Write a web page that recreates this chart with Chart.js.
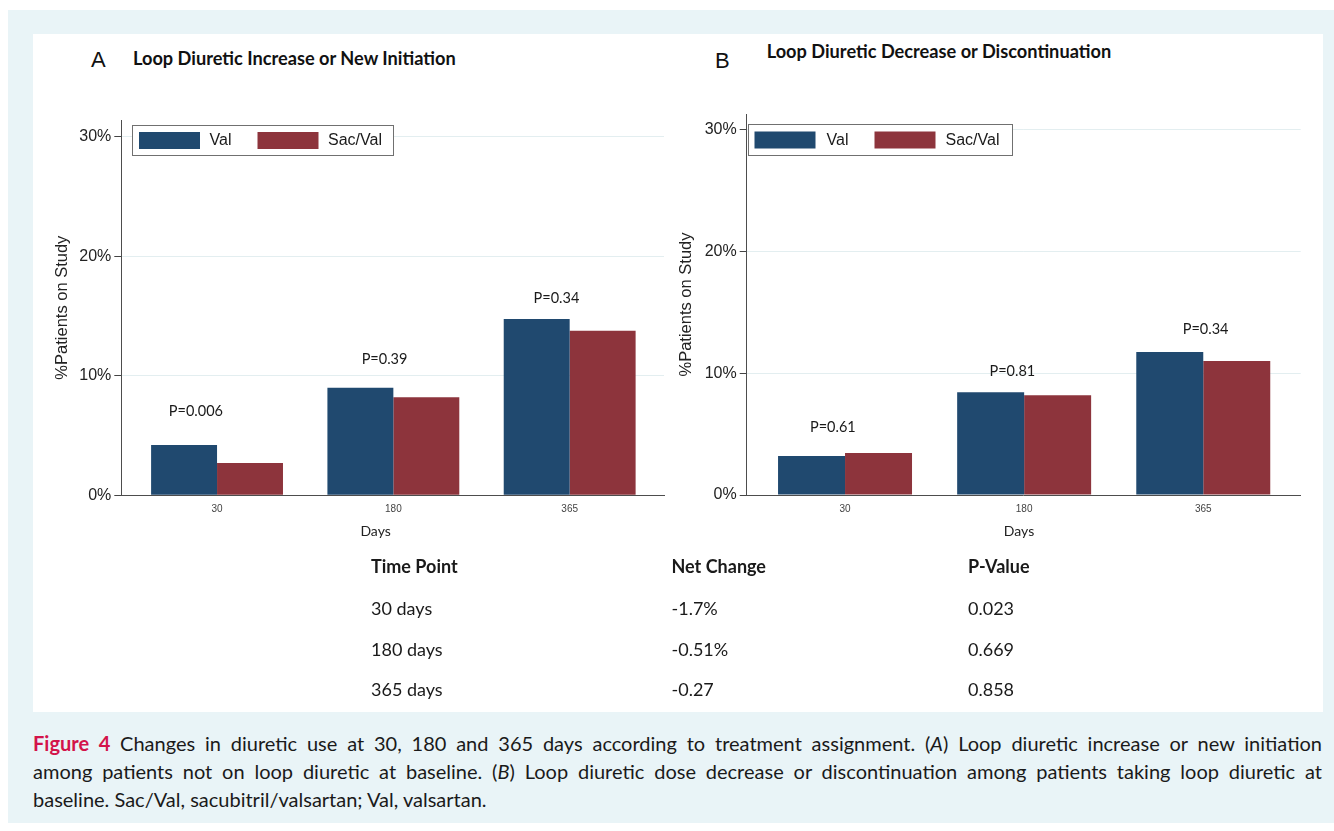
<!DOCTYPE html>
<html>
<head>
<meta charset="utf-8">
<title>Loop diuretic changes</title>
<script src="https://cdn.jsdelivr.net/npm/chart.js@4.4.1/dist/chart.umd.min.js"></script>
<style>
  html, body { margin: 0; padding: 0; background: #ffffff; }
  body { width: 1334px; height: 831px; position: relative; overflow: hidden; font-family: Lato, "Open Sans", sans-serif; color: #1a1a1a; }
  #frame { position: absolute; left: 8px; top: 10px; width: 1326px; height: 813px; background: #e9f4f7; }
  #sheet { position: absolute; left: 33px; top: 34px; width: 1290px; height: 678px; background: #ffffff; }
  .abs { position: absolute; white-space: nowrap; }
  .letter { font-family: "Liberation Sans", Arial, sans-serif; font-size: 22px; line-height: 26px; color: #111; }
  .ptitle { font-weight: 700; font-size: 18.2px; line-height: 21.84px; color: #111; }
  .days { font-size: 14px; line-height: 16.8px; transform: translateX(-50%); color: #222; }
  .cell { font-size: 18px; line-height: 21.6px; color: #1a1a1a; }
  .cell.head { font-weight: 700; }
  canvas { position: absolute; }
  #caption { position: absolute; left: 33px; top: 729px; width: 1289px; font-size: 20px; line-height: 28px; color: #1a1a1a; }
  #caption .cl { white-space: nowrap; }
  #caption .j { white-space: normal; text-align: justify; text-align-last: justify; }
  #caption .fig { color: #d3134a; font-weight: 700; }
</style>
</head>
<body>
<div id="frame"></div>
<div id="sheet"></div>

<div class="abs letter" style="left:91px; top:47.1px;">A</div>
<div class="abs ptitle" style="left:133px; top:47.7px;">Loop Diuretic Increase or New Initiation</div>
<div class="abs letter" style="left:715px; top:47.7px;">B</div>
<div class="abs ptitle" style="left:766.7px; top:41.3px;">Loop Diuretic Decrease or Discontinuation</div>

<canvas id="chartIncrease" width="645" height="530" style="left:33px; top:34px;"></canvas>
<canvas id="chartDecrease" width="650" height="530" style="left:670px; top:34px;"></canvas>

<div class="abs days" style="left:375.6px; top:523px;">Days</div>
<div class="abs days" style="left:1019px; top:523px;">Days</div>

<div id="table"></div>

<div id="caption">
  <div class="cl j"><span class="fig">Figure 4</span> Changes in diuretic use at 30, 180 and 365 days according to treatment assignment. (<i>A</i>) Loop diuretic increase or new initiation</div>
  <div class="cl j">among patients not on loop diuretic at baseline. (<i>B</i>) Loop diuretic dose decrease or discontinuation among patients taking loop diuretic at</div>
  <div class="cl">baseline. Sac/Val, sacubitril/valsartan; Val, valsartan.</div>
</div>

<script>
// ---- data ----
const days = ['30', '180', '365'];
const seriesNames = ['Val', 'Sac/Val'];
const yTicks = [0, 10, 20, 30];

// Panel A: loop diuretic increase or new initiation (% of patients)
const increaseVal = [4.2, 9.0, 14.75];
const increaseSacVal = [2.7, 8.2, 13.75];
const increasePLabels = ['P=0.006', 'P=0.39', 'P=0.34'];

// Panel B: loop diuretic decrease or discontinuation (% of patients)
const decreaseVal = [3.2, 8.45, 11.75];
const decreaseSacVal = [3.45, 8.2, 11.0];
const decreasePLabels = ['P=0.61', 'P=0.81', 'P=0.34'];

// Net change table
const tableHead = ['Time Point', 'Net Change', 'P-Value'];
const timePoints = ['30 days', '180 days', '365 days'];
const netChange = ['-1.7%', '-0.51%', '-0.27'];
const pValues = ['0.023', '0.669', '0.858'];

// ---- table below the panels ----
(function buildTable() {
  const host = document.getElementById('table');
  const colX = [371, 671.5, 968];
  const rowTop = [556.2, 597.5, 638.9, 678.9];
  const rows = [tableHead].concat(timePoints.map((t, i) => [t, netChange[i], pValues[i]]));
  rows.forEach((row, r) => {
    row.forEach((txt, c) => {
      const d = document.createElement('div');
      d.className = 'abs cell' + (r === 0 ? ' head' : '');
      d.style.left = colX[c] + 'px';
      d.style.top = rowTop[r] + 'px';
      d.textContent = txt;
      host.appendChild(d);
    });
  });
})();

// ---- p-value annotations and boxed legend ----
const panelDecor = {
  id: 'panelDecor',
  afterDraw(chart, args, opts) {
    const { ctx, chartArea, scales: { x, y } } = chart;
    ctx.save();
    ctx.font = '14.5px Lato';
    ctx.fillStyle = '#1a1a1a';
    ctx.textAlign = 'center';
    ctx.textBaseline = 'middle';
    opts.pText.forEach((t, i) => {
      ctx.fillText(t, x.getPixelForValue(i + opts.pShift[i]), y.getPixelForValue(opts.pLevel[i]));
    });

    const L = opts.legend;
    const bx = Math.round(chartArea.left + L.dx);
    const by = Math.round(chartArea.top + L.dy);
    ctx.fillStyle = '#ffffff';
    ctx.fillRect(bx, by, L.w, L.h);
    ctx.strokeStyle = '#707070';
    ctx.lineWidth = 1;
    ctx.strokeRect(bx + 0.5, by + 0.5, L.w, L.h);
    ctx.font = '16px "Liberation Sans"';
    ctx.textAlign = 'left';
    chart.data.datasets.forEach((ds, i) => {
      ctx.fillStyle = ds.backgroundColor;
      ctx.fillRect(bx + L.swatchX[i], by + (L.h - 17) / 2 + 0.5, 61, 17);
      ctx.fillStyle = '#1a1a1a';
      ctx.fillText(ds.label, bx + L.textX[i], by + L.h / 2 + 1);
    });
    ctx.restore();
  }
};

function makePanel(id, valSeries, sacSeries, pText, cfg) {
  const points = arr => days.map((d, i) => ({ x: i, y: arr[i] }));
  return new Chart(document.getElementById(id), {
    type: 'bar',
    data: {
      datasets: [
        { label: seriesNames[0], data: points(valSeries), backgroundColor: '#20496f',
          categoryPercentage: 0.748, barPercentage: 1, borderWidth: 0 },
        { label: seriesNames[1], data: points(sacSeries), backgroundColor: '#8d343c',
          categoryPercentage: 0.748, barPercentage: 1, borderWidth: 0 }
      ]
    },
    options: {
      responsive: false,
      animation: false,
      events: [],
      layout: { padding: { left: 0, top: cfg.padTop, right: cfg.padRight, bottom: cfg.padBottom } },
      plugins: {
        legend: { display: false },
        tooltip: { enabled: false },
        panelDecor: {
          pText: pText,
          pShift: cfg.pShift,
          pLevel: cfg.pLevel,
          legend: cfg.legend
        }
      },
      scales: {
        x: {
          type: 'linear',
          offset: false,
          min: cfg.xMin,
          max: cfg.xMax,
          afterBuildTicks: s => { s.ticks = days.map((d, i) => ({ value: i })); },
          afterFit: s => { s.height = 30; },
          grid: { display: false, offset: false },
          border: { display: true, color: '#4d4d4d', width: 1 },
          ticks: {
            callback: v => days[v],
            padding: 0,
            autoSkip: false,
            maxRotation: 0,
            font: { family: 'Liberation Sans', size: 10 },
            color: '#444444'
          }
        },
        y: {
          min: 0,
          max: cfg.yMax,
          afterBuildTicks: s => { s.ticks = yTicks.map(v => ({ value: v })); },
          afterFit: s => { s.width = cfg.yWidth; },
          grid: { color: '#e3eef0', tickColor: '#444444', tickLength: 7, lineWidth: 1 },
          border: { display: true, color: '#4d4d4d', width: 1 },
          ticks: {
            callback: v => v + '%',
            padding: 3,
            font: { family: 'Liberation Sans', size: 16 },
            color: '#222222'
          },
          title: {
            display: true,
            text: '%Patients on Study',
            font: { family: 'Liberation Sans', size: 16.5 },
            color: '#222222',
            padding: { top: cfg.titlePad, bottom: 0 }
          }
        }
      }
    },
    plugins: [panelDecor]
  });
}

function build() {
  makePanel('chartIncrease', increaseVal, increaseSacVal, increasePLabels, {
    padTop: 86, padRight: 14, padBottom: 38.7, yWidth: 88.3, titlePad: 19.1,
    xMin: -0.543, xMax: 2.535, yMax: 31.38,
    pShift: [-0.12, -0.05, -0.075],
    pLevel: [7.05, 11.4, 16.45],
    legend: { dx: 11, dy: 5.3, w: 261, h: 30, swatchX: [7, 125.5], textX: [77.5, 196] }
  });
  makePanel('chartDecrease', decreaseVal, decreaseSacVal, decreasePLabels, {
    padTop: 80, padRight: 19.3, padBottom: 39, yWidth: 76.7, titlePad: 6.1,
    xMin: -0.549, xMax: 2.544, yMax: 31.3,
    pShift: [-0.068, -0.066, 0.013],
    pLevel: [5.6, 10.2, 13.65],
    legend: { dx: 0.8, dy: 10.3, w: 264, h: 31, swatchX: [6.5, 126.5], textX: [78.5, 197.5] }
  });
}

Promise.all([
  document.fonts.load('15px Lato'),
  document.fonts.load('bold 17px Lato'),
  document.fonts.load('16px "Liberation Sans"')
]).then(build, build);
</script>
</body>
</html>
